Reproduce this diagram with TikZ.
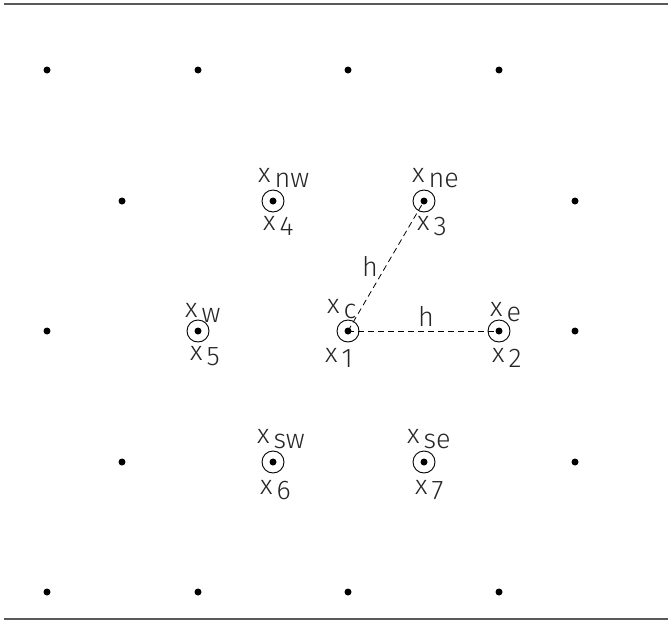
\documentclass[tikz,border=0pt]{standalone}
\usepackage{fontspec}
\setmainfont{Fira Sans Light}
\usetikzlibrary{positioning}
\newcommand{\xsub}[1]{x\kern4pt\lower5pt\hbox{#1}}

\begin{document}
\begin{tikzpicture}[
        x=1pt, y=-1pt,
        font=\fontsize{27}{31}\selectfont,
        dot/.style={circle, fill=black, inner sep=0pt, minimum size=7pt},
        ring/.style={circle, draw, line width=0.9pt, inner sep=0pt, minimum size=22pt},
        lab/.style={anchor=base west, inner sep=0pt, text=black!85},
        rule/.style={draw=black!65, line width=1.5pt},
        link/.style={dashed, dash pattern=on 6pt off 4pt, line width=0.8pt}
      ]
        \useasboundingbox (0,0) rectangle (672,621);
        % frame lines
        \draw[rule] (4,4) -- (668,4);
        \draw[rule] (4,619) -- (668,619);

        % outer lattice points
        \node[dot] (a1) at (47,70) {};
        \node[dot] (a2) at (198,70) {};
        \node[dot] (a3) at (348,70) {};
        \node[dot] (a4) at (499,70) {};
        \node[dot] (b1) at (122,201) {};
        \node[dot] (b2) at (575,201) {};
        \node[dot] (m1) at (47,331) {};
        \node[dot] (m2) at (575,331) {};
        \node[dot] (d1) at (122,462) {};
        \node[dot] (d2) at (575,462) {};
        \node[dot] (f1) at (47,592) {};
        \node[dot] (f2) at (198,592) {};
        \node[dot] (f3) at (348,592) {};
        \node[dot] (f4) at (499,592) {};

        % centre and its neighbours
        \node[dot] (c) at (348,331) {};
        \node[dot] (e) at (499,331) {};
        \node[dot] (ne) at (424,201) {};
        \node[dot] (nw) at (273,201) {};
        \node[dot] (w) at (198,331) {};
        \node[dot] (sw) at (273,462) {};
        \node[dot] (se) at (424,462) {};
        \foreach \p in {c,e,ne,nw,w,sw,se}
          \node[ring] (r\p) at (\p) {};

        % names above, numbers below
        \node[lab] (lc) at (327,313) {\xsub{c}};
        \node[lab] (le) at (490,316) {\xsub{e}};
        \node[lab] (lne) at (412,182) {\xsub{ne}};
        \node[lab] (lnw) at (258,182) {\xsub{nw}};
        \node[lab] (lw) at (185,317) {\xsub{w}};
        \node[lab] (lsw) at (257,443) {\xsub{sw}};
        \node[lab] (lse) at (407,443) {\xsub{se}};
        \node[lab] (l1) at (325,362) {\xsub{1}};
        \node[lab] (l2) at (492,362) {\xsub{2}};
        \node[lab] (l3) at (417,230) {\xsub{3}};
        \node[lab] (l4) at (263,230) {\xsub{4}};
        \node[lab] (l5) at (190,360) {\xsub{5}};
        \node[lab] (l6) at (260,494) {\xsub{6}};
        \node[lab] (l7) at (415,494) {\xsub{7}};

        % spacing h
        \draw[link] (c.center) -- (e.center);
        \draw[link] (c.center) -- (ne.center);
        \node[text=black!85] (h1) at (426,316) {h};
        \node[text=black!85] (h2) at (370,266) {h};
    \end{tikzpicture}
\end{document}
